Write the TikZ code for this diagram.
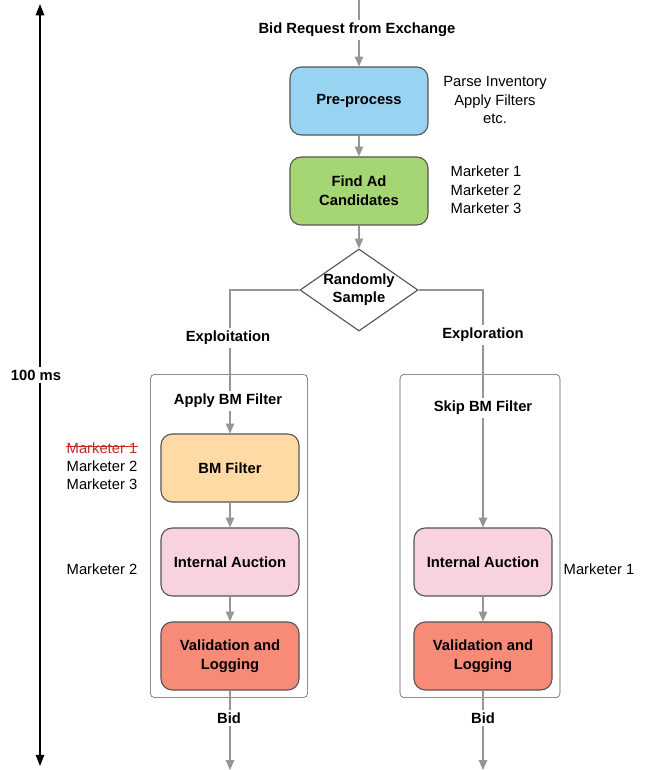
\documentclass[tikz,border=0pt]{standalone}
\usepackage{fontspec}
\setmainfont{Liberation Sans}
\usepackage{xcolor}
\usetikzlibrary{calc, shapes.geometric, arrows.meta, positioning}
\definecolor{FlowBlue}{RGB}{153, 211, 242}
\definecolor{FlowGreen}{RGB}{166, 214, 115}
\definecolor{FlowOrange}{RGB}{255, 218, 165}
\definecolor{FlowPink}{RGB}{248, 210, 220}
\definecolor{FlowRed}{RGB}{248, 138, 120}
\definecolor{FlowGray}{RGB}{150, 150, 150}
\definecolor{FlowBorder}{RGB}{85, 85, 85}
\definecolor{StrikeRed}{RGB}{200, 40, 40}

\begin{document}
\begin{tikzpicture}[x=0.025cm, y=-0.025cm,
    every node/.style={font=\fontsize{10.5}{13}\selectfont},
    stage/.style={draw=FlowBorder, thick, rounded corners=8pt, minimum width=3.45cm, minimum height=1.7cm, align=center, font=\fontsize{10.5}{13.5}\selectfont\bfseries},
    flow/.style={draw=FlowGray, thick, -{Triangle[width=6pt,length=7pt]}},
    tag/.style={fill=white, inner sep=2pt, font=\fontsize{10.5}{13}\selectfont\bfseries},
    note/.style={align=center}]
  \useasboundingbox (0,0) rectangle (646,770);

  % time axis
  \coordinate (tTop) at (40,4);
  \coordinate (tBot) at (40,766);
  \draw[very thick, {Triangle[width=6pt,length=8pt]}-{Triangle[width=6pt,length=8pt]}] (tTop) -- (tBot);
  \node[fill=white, inner sep=2pt, font=\fontsize{10.5}{13}\selectfont\bfseries] (time) at (36,375) {100 ms};

  % top of the flow
  \coordinate (start) at (359,0);
  \node[stage, fill=FlowBlue] (pre) at (359,101) {Pre-process};
  \node[stage, fill=FlowGreen] (find) at (359,191) {Find Ad\\Candidates};
  \node[draw=FlowBorder, thick, diamond, aspect=1.45, minimum width=2.95cm, minimum height=2.05cm, align=center, inner sep=0pt, font=\fontsize{10.5}{13}\selectfont\bfseries] (sample) at (359,290) {Randomly\\Sample};
  \draw[flow] (start) -- (pre);
  \node[tag] (req) at (357,30) {Bid Request from Exchange};
  \draw[flow] (pre) -- (find);
  \draw[flow] (find) -- (sample);

  \node[note] (preNote) at (495,100) {Parse Inventory\\Apply Filters\\etc.};
  \node[note] (findNote) at (486,190) {Marketer 1\\Marketer 2\\Marketer 3};

  % containers
  \node[draw=FlowBorder, rounded corners=3pt, minimum width=3.93cm, minimum height=8.08cm] (leftBox) at (229,536) {};
  \node[draw=FlowBorder, rounded corners=3pt, minimum width=4.0cm, minimum height=8.08cm] (rightBox) at (480,536) {};

  % exploitation branch
  \node[stage, fill=FlowOrange] (bmf) at (230,468) {BM Filter};
  \node[stage, fill=FlowPink] (auctL) at (230,562) {Internal Auction};
  \node[stage, fill=FlowRed] (valL) at (230,656) {Validation and\\Logging};
  \coordinate (endL) at (230,770);
  \draw[flow] (sample.west) -| (bmf.north);
  \node[tag] (exploit) at (228,338) {Exploitation};
  \node[tag] (applyBM) at (228,401) {Apply BM Filter};
  \draw[flow] (bmf) -- (auctL);
  \draw[flow] (auctL) -- (valL);
  \draw[flow] (valL) -- (endL);
  \node[tag] (bidL) at (229,718) {Bid};

  % exploration branch
  \node[stage, fill=FlowPink] (auctR) at (483,562) {Internal Auction};
  \node[stage, fill=FlowRed] (valR) at (483,656) {Validation and\\Logging};
  \coordinate (endR) at (483,770);
  \draw[flow] (sample.east) -| (auctR.north);
  \node[tag] (explore) at (483,335) {Exploration};
  \node[tag] (skipBM) at (483,408) {Skip BM Filter};
  \draw[flow] (auctR) -- (valR);
  \draw[flow] (valR) -- (endR);
  \node[tag] (bidR) at (483,718) {Bid};

  % marketers per stage
  \node[text=StrikeRed, inner sep=0pt] (dropped) at (102,448) {Marketer 1};
  \draw[StrikeRed, thin] ($(dropped.west)+(0,-1.5)$) -- ($(dropped.east)+(0,-1.5)$);
  \node[note] (bmNote) at (102,475) {Marketer 2\\Marketer 3};
  \node[note] (auctLNote) at (102,569) {Marketer 2};
  \node[note] (auctRNote) at (599,569) {Marketer 1};
\end{tikzpicture}
\end{document}
